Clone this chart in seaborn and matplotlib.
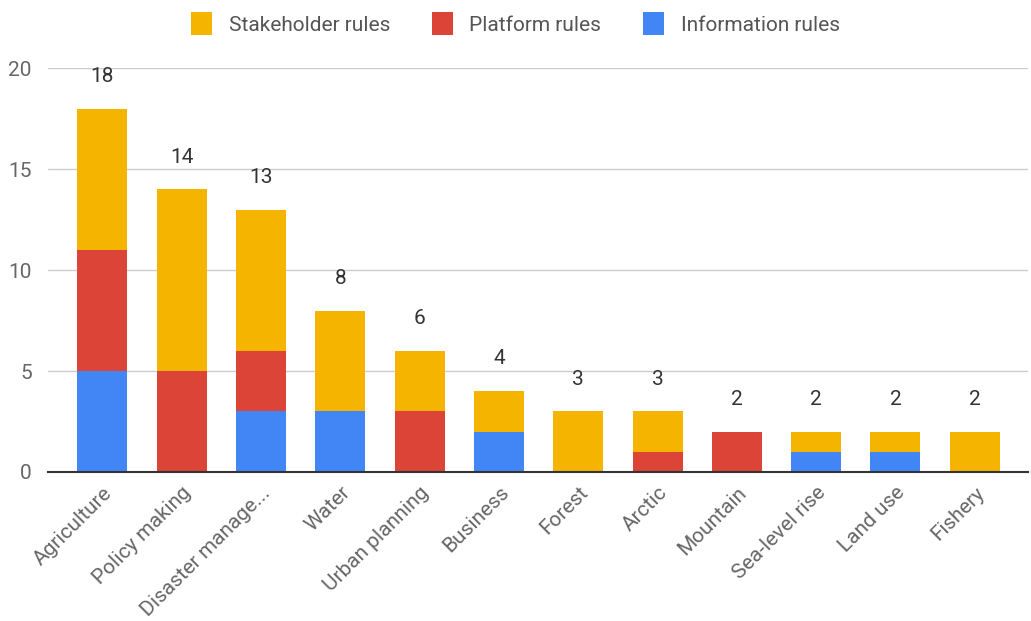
import matplotlib
matplotlib.use("Agg")
import matplotlib.pyplot as plt
from matplotlib.patches import Patch
import numpy as np
import pandas as pd
import seaborn as sns

categories = ["Agriculture", "Policy making", "Disaster manage...", "Water", "Urban planning",
              "Business", "Forest", "Arctic", "Mountain", "Sea-level rise", "Land use", "Fishery"]
information = [5, 0, 3, 3, 0, 2, 0, 0, 0, 1, 1, 0]
platform = [6, 5, 3, 0, 3, 0, 0, 1, 2, 0, 0, 0]
stakeholder = [7, 9, 7, 5, 3, 2, 3, 2, 0, 1, 1, 2]

colors = {"Information rules": "#4285F4", "Platform rules": "#DB4437", "Stakeholder rules": "#F4B400"}

sns.set_style("white")
plt.rcParams["font.family"] = ["Roboto", "DejaVu Sans"]

df = pd.DataFrame({"Category": categories, "Information rules": information,
                   "Platform rules": platform, "Stakeholder rules": stakeholder})
df["base_platform"] = df["Information rules"]
df["base_stake"] = df["Information rules"] + df["Platform rules"]
df["Total"] = df["base_stake"] + df["Stakeholder rules"]

fig = plt.figure(figsize=(10.31, 6.21), dpi=100)
ax = fig.add_axes([0.047, 0.24, 0.95, 0.65])

ax.grid(axis="y", color="#cccccc", linewidth=1)
ax.set_axisbelow(True)

sns.barplot(data=df, x="Category", y="Information rules", color=colors["Information rules"],
            width=0.63, ax=ax, saturation=1, linewidth=0)
sns.barplot(data=df, x="Category", y="Platform rules", bottom=df["base_platform"],
            color=colors["Platform rules"], width=0.63, ax=ax, saturation=1, linewidth=0)
sns.barplot(data=df, x="Category", y="Stakeholder rules", bottom=df["base_stake"],
            color=colors["Stakeholder rules"], width=0.63, ax=ax, saturation=1, linewidth=0)

for i, t in enumerate(df["Total"]):
    ax.text(i, t + 1.6, str(t), ha="center", va="center", fontsize=15, color="#333333")

ax.set_ylim(0, 20)
ax.set_xlim(-0.68, 11.67)
ax.set_yticks([0, 5, 10, 15, 20])
ax.set_xlabel("")
ax.set_ylabel("")
for s in ["top", "right", "left"]:
    ax.spines[s].set_visible(False)
ax.spines["bottom"].set_color("#333333")
ax.spines["bottom"].set_linewidth(1.5)
ax.tick_params(axis="both", length=0, labelsize=15, colors="#666666", pad=12)
plt.setp(ax.get_xticklabels(), rotation=45, ha="right", rotation_mode="anchor")
ax.tick_params(axis="x", pad=8)

handles = [Patch(facecolor=colors[k], edgecolor="none") for k in
           ["Stakeholder rules", "Platform rules", "Information rules"]]
fig.legend(handles, ["Stakeholder rules", "Platform rules", "Information rules"],
           loc="center", bbox_to_anchor=(0.5, 0.962), ncol=3, frameon=False,
           fontsize=15, labelcolor="#555555", handlelength=1.0, handleheight=1.3,
           columnspacing=2.0, handletextpad=0.8)

fig.savefig("out.png", dpi=100)
